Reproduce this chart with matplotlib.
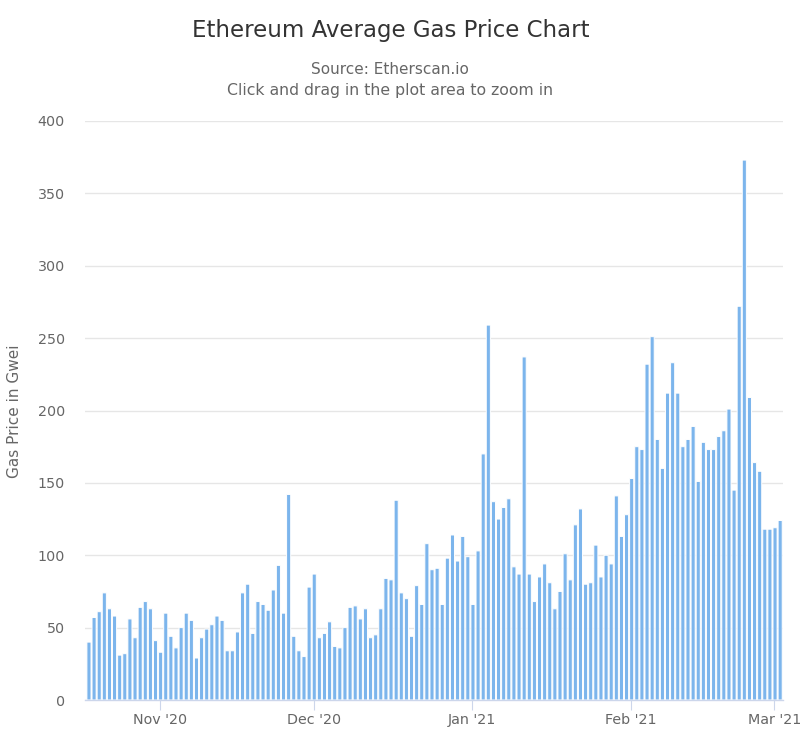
import pandas as pd
import matplotlib
matplotlib.use("Agg")
import matplotlib.pyplot as plt
import matplotlib.dates as mdates

plt.rcParams['font.family'] = ['DejaVu Sans']

start_date = "2020-10-18 03:00"
oct_nov = [40,57,61,74,63,58,31,32,56,43,64,68,63,41,33,
           60,44,36,50,60,55,29,43,49,52,58,55,34,34,47,74,80,46,68,66,62,76,93,60,142,44,34,30,78]
dec = [87,43,46,54,37,36,50,64,65,56,63,43,45,63,84,83,138,74,70,44,79,66,108,90,91,66,98,114,96,113,99]
jan = [66,103,170,259,137,125,133,139,92,87,237,87,68,85,94,81,63,75,101,83,121,132,80,81,107,85,100,94,141,113,128]
feb = [153,175,173,232,251,180,160,212,233,212,175,180,189,151,178,173,173,182,186,201,145,272,373,209,164,158,118,118]
mar = [119,124]
values = oct_nov + dec + jan + feb + mar
dates = pd.date_range(start_date, periods=len(values), freq="D")

tick_dates = ["2020-11-01", "2020-12-01", "2021-01-01", "2021-02-01", "2021-03-01"]
tick_labels = ["Nov '20", "Dec '20", "Jan '21", "Feb '21", "Mar '21"]
y_ticks = [0, 50, 100, 150, 200, 250, 300, 350, 400]

fig = plt.figure(figsize=(8, 7.5), dpi=100)
ax = fig.add_axes([85/800, 1-700/750, (783-85)/800, (700-121)/750])

bars = ax.bar(dates, values, width=0.8, color="#7cb5ec", edgecolor="white", linewidth=0.7, zorder=3)
for b in bars:
    b.set_snap(False)

xl = mdates.date2num(pd.Timestamp("2020-11-01"))
ax.set_xlim(xl - 75/5.12, xl + 623/5.12)
ax.set_ylim(0, 400)

ax.set_yticks(y_ticks)
ax.set_xticks(pd.to_datetime(tick_dates))
ax.set_xticklabels(tick_labels)
ax.grid(axis="y", color="#e6e6e6", linewidth=1)
ax.set_axisbelow(True)
for s in ["top", "left", "right"]:
    ax.spines[s].set_visible(False)
ax.spines["bottom"].set_color("#ccd6eb")
ax.spines["bottom"].set_linewidth(1)
ax.spines["bottom"].set_zorder(4)
ax.tick_params(axis="y", length=0, pad=14.5, labelsize=10.3, labelcolor="#666666")
ax.tick_params(axis="x", length=7.2, width=0.8, color="#ccd6eb", pad=2.5, labelsize=10.3, labelcolor="#666666")

fig.text(15/800, 1-411/750, "Gas Price in Gwei", rotation=90, ha="center", va="center",
         fontsize=11, color="#666666")
fig.text(390.5/800, 1-30/750, "Ethereum Average Gas Price Chart", ha="center", va="center",
         fontsize=16.5, color="#333333")
fig.text(390/800, 1-70/750, "Source: Etherscan.io", ha="center", va="center",
         fontsize=11, color="#666666")
fig.text(390/800, 1-90/750, "Click and drag in the plot area to zoom in", ha="center", va="center",
         fontsize=11.3, color="#666666")

fig.savefig("out.png", dpi=100)
